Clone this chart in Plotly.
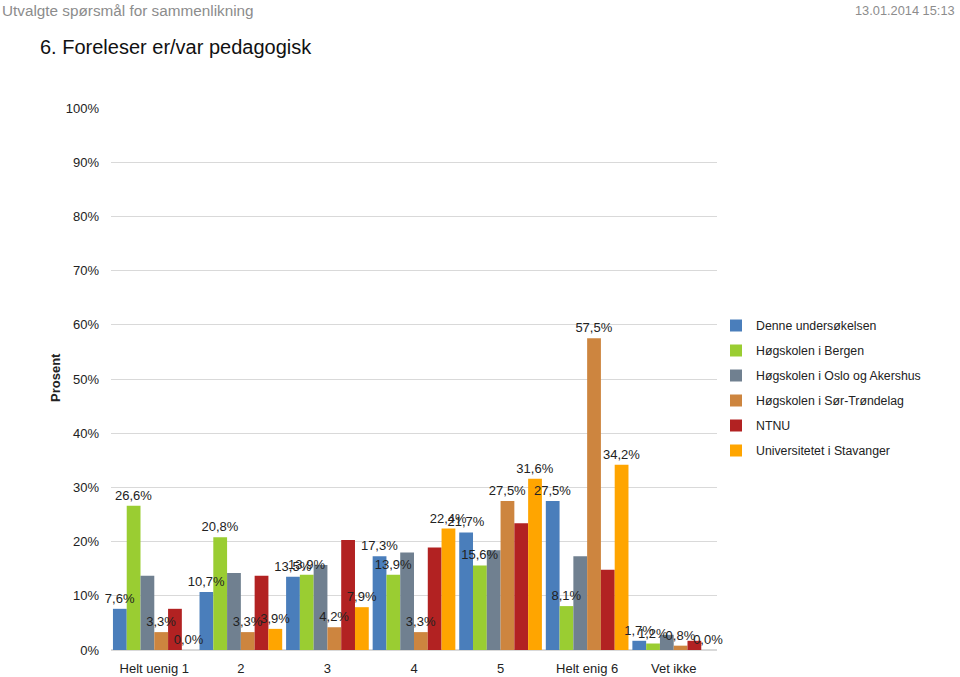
import plotly.graph_objects as go

categories = ["Helt uenig 1", "2", "3", "4", "5", "Helt enig 6", "Vet ikke"]
series_names = [
    "Denne undersøkelsen",
    "Høgskolen i Bergen",
    "Høgskolen i Oslo og Akershus",
    "Høgskolen i Sør-Trøndelag",
    "NTNU",
    "Universitetet i Stavanger",
]
denne = [7.6, 10.7, 13.5, 17.3, 21.7, 27.5, 1.7]
bergen = [26.6, 20.8, 13.9, 13.9, 15.6, 8.1, 1.2]
hioa = [13.7, 14.2, 15.7, 18.0, 18.4, 17.3, 2.8]
hist = [3.3, 3.3, 4.2, 3.3, 27.5, 57.5, 0.8]
ntnu = [7.6, 13.7, 20.3, 18.9, 23.4, 14.8, 1.7]
uis = [0.0, 3.9, 7.9, 22.4, 31.6, 34.2, 0.0]
series_values = [denne, bergen, hioa, hist, ntnu, uis]
show_labels = [True, True, False, True, False, True]
colors = ["#4A7EBB", "#9ACD32", "#708090", "#CD853F", "#B22222", "#FFA500"]
y_ticks = [0, 10, 20, 30, 40, 50, 60, 70, 80, 90, 100]
y_tick_labels = [f"{v}%" for v in y_ticks]

FONT = "Liberation Sans, Arial, sans-serif"

fig = go.Figure()
for i, (name, vals, col) in enumerate(zip(series_names, series_values, colors)):
    fig.add_trace(go.Bar(
        x=categories, y=vals, name=name, marker=dict(color=col, line=dict(width=0)),
        offsetgroup=str(i), legendgroup=f"g{i}", hoverinfo="name+y",
    ))
# label layer drawn on top of all bars (same offset groups, transparent)
for i, (vals, lab) in enumerate(zip(series_values, show_labels)):
    if not lab:
        continue
    fig.add_trace(go.Bar(
        x=categories, y=vals, marker=dict(color="rgba(0,0,0,0)", line=dict(width=0)),
        text=[f"{v:.1f}%".replace(".", ",") for v in vals], textposition="outside",
        textfont=dict(family=FONT, size=13, color="#222222"),
        constraintext="none", cliponaxis=False, offsetgroup=str(i),
        showlegend=False, hoverinfo="skip",
    ))

# plot area in pixels: x 111..717, y 108..650
L, R, T, B = 111, 717, 108, 650
W, H = R - L, B - T

def px(x):
    return (x - L) / W

def py(y):
    return (B - y) / H

fig.update_layout(
    width=960, height=677,
    margin=dict(l=L, r=960 - R, t=T, b=677 - B, pad=0, autoexpand=False),
    paper_bgcolor="white", plot_bgcolor="white",
    barmode="group", bargap=0.045, bargroupgap=0,
    font=dict(family=FONT, size=13, color="#222222"),
    xaxis=dict(showgrid=False, showline=False, ticks="", ticklabelstandoff=9,
               tickfont=dict(size=13, color="#222222")),
    yaxis=dict(range=[0, 100], tickvals=y_ticks, ticktext=y_tick_labels, showgrid=True,
               gridcolor="#D9D9D9", gridwidth=1, zeroline=True, zerolinecolor="#D9D9D9",
               showline=False, ticks="", ticklabelstandoff=11,
               tickfont=dict(size=13, color="#222222")),
    legend=dict(x=px(716), y=py(311), xanchor="left", yanchor="top",
                font=dict(size=12.3, color="#222222"), tracegroupgap=6,
                bgcolor="rgba(0,0,0,0)", itemwidth=30),
    showlegend=True,
    annotations=[
        dict(text="Utvalgte spørsmål for sammenlikning", x=px(0), y=py(10), xref="paper", yref="paper",
             xanchor="left", yanchor="middle", showarrow=False,
             font=dict(family=FONT, size=15.3, color="#8C8C8C")),
        dict(text="13.01.2014 15:13", x=px(957), y=py(10), xref="paper", yref="paper",
             xanchor="right", yanchor="middle", showarrow=False,
             font=dict(family=FONT, size=12.8, color="#8C8C8C")),
        dict(text="6. Foreleser er/var pedagogisk", x=px(38), y=py(47), xref="paper", yref="paper",
             xanchor="left", yanchor="middle", showarrow=False,
             font=dict(family=FONT, size=20, color="#111111")),
        dict(text="<b>Prosent</b>", x=px(55), y=py(378), xref="paper", yref="paper",
             xanchor="center", yanchor="middle", showarrow=False, textangle=-90,
             font=dict(family=FONT, size=13, color="#222222")),
    ],
)

fig.write_html("out.html", config={"displayModeBar": False},
               post_script="document.body.style.margin='0';document.body.style.overflow='hidden';")
